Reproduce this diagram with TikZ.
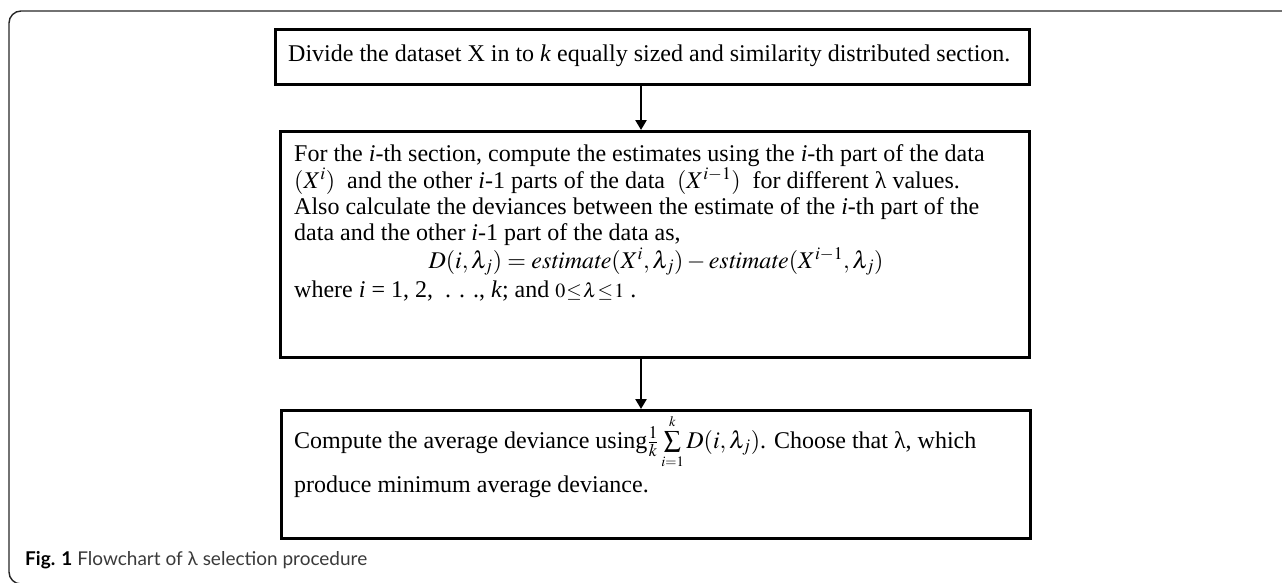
\documentclass[tikz,border=0pt]{standalone}
\usepackage{mathptmx}
\usepackage{fontspec}
\setmainfont{Liberation Serif}
\newfontfamily\capfont{Lato}
\usetikzlibrary{arrows.meta}
\definecolor{capgray}{HTML}{3A3A3A}
\begin{document}
\begin{tikzpicture}[x=1pt,y=-1pt,
  box/.style={draw=black, line width=3pt, inner sep=0pt, anchor=north west},
  txt/.style={anchor=base west, inner sep=0pt, font=\fontsize{24}{27}\selectfont},
  ctxt/.style={anchor=base, inner sep=0pt, font=\fontsize{24}{27}\selectfont},
  flow/.style={line width=2.5pt, -{Triangle[length=10pt,width=11pt]}},
  frame/.style={line width=1.4pt, draw=black!85, rounded corners=12pt},
]
\useasboundingbox (0,0) rectangle (1282,582);
\draw[frame] (1295,11) -- (9,11) -- (9,584) -- (80,584);
% boxes
\node[box, minimum width=754pt, minimum height=55pt] (b1) at (274,28) {};
\node[box, minimum width=749pt, minimum height=226pt] (b2) at (279,130) {};
\node[box, minimum width=749pt, minimum height=128pt] (b3) at (280,409) {};
% arrows
\coordinate (ax) at (641,0);
\draw[flow] (b1.south -| ax) -- (b2.north -| ax);
\draw[flow] (b2.south -| ax) -- (b3.north -| ax);
% texts
\node[txt] (t1) at (288,61) {Divide the dataset X in to \textit{k} equally sized and similarity distributed section.};
\node[txt] (m1) at (294,161) {For the \textit{i}-th section, compute the estimates using the \textit{i}-th part of the data};
\node[txt] (m2) at (294,188) {$(X^{i})$\ \ and the other \textit{i}-1 parts of the data\ \ $(X^{i-1})$\ \ for different λ values.};
\node[txt] (m3) at (294,214) {Also calculate the deviances between the estimate of the \textit{i}-th part of the};
\node[txt] (m4) at (294,240) {data and the other \textit{i}-1 part of the data as,};
\node[ctxt] (m5) at (656,268) {$D(i,\lambda_j) = \mathit{estimate}(X^{i},\lambda_j) - \mathit{estimate}(X^{i-1},\lambda_j)$};
\node[txt] (m6) at (294,297) {where \textit{i} = 1, 2,\ \ . . ., \textit{k}; and\ {\fontsize{20}{22}\selectfont$0\mkern1mu{\le}\mkern1mu\lambda\mkern1mu{\le}\mkern1mu1$}\ .};
\node[txt] (c1) at (294,448) {Compute the average deviance using$\frac{1}{k}\sum\limits_{\scriptscriptstyle i=1}^{\scriptscriptstyle k}D(i,\lambda_j)$. Choose that λ, which};
\node[txt] (c2) at (294,492) {produce minimum average deviance.};
\node[anchor=base west, inner sep=0pt, font=\capfont\fontsize{19}{22}\selectfont, text=capgray] (cap) at (25,565) {{\bfseries\color{black}Fig. 1} Flowchart of λ selection procedure};
\end{tikzpicture}
\end{document}
